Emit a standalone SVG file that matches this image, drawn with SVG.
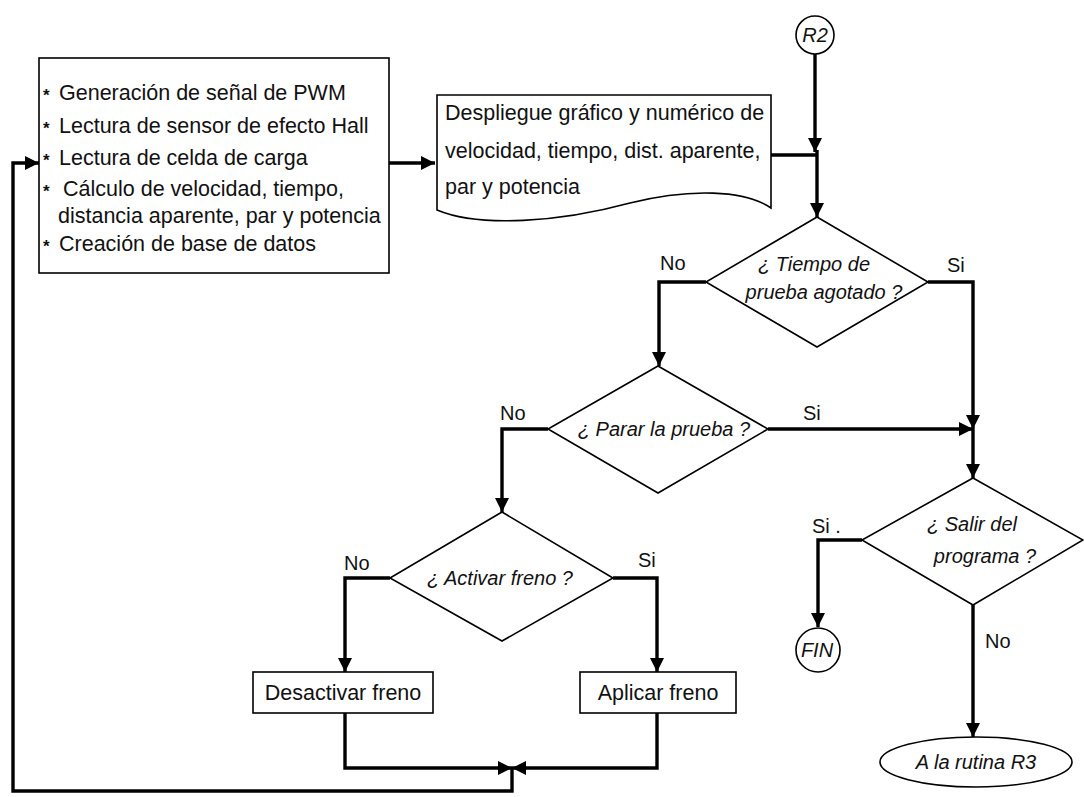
<svg xmlns="http://www.w3.org/2000/svg" width="1084" height="797" viewBox="0 0 1084 797">
  <defs>
    <marker id="arrow" markerUnits="userSpaceOnUse" markerWidth="14" markerHeight="14" refX="14" refY="7" orient="auto">
      <path d="M0,0 L14,7 L0,14 z" fill="#000"/>
    </marker>
    <style>
      .shape { fill: #fff; stroke: #000; stroke-width: 1.6; }
      .wire { fill: none; stroke: #000; stroke-width: 3.4; }
      .arrowed { marker-end: url(#arrow); }
      text { font-family: "Liberation Sans", Arial, sans-serif; fill: #111; }
      .body { font-size: 21.5px; }
      .ask { font-size: 20px; font-style: italic; text-anchor: middle; }
      .lbl { font-size: 20px; }
      .mid { text-anchor: middle; }
      .star { font-size: 17px; font-weight: bold; }
    </style>
  </defs>
  <rect width="1084" height="797" fill="#fff"/>

  <!-- connectors -->
  <g id="connectors">
    <path class="wire arrowed" d="M389,163 H435"/>
    <path class="wire" d="M771,155 H817"/>
    <path class="wire arrowed" d="M815,54 V152"/>
    <path class="wire arrowed" d="M817,150 V217"/>
    <path class="wire arrowed" d="M706,282 H659 V366"/>
    <path class="wire arrowed" d="M928,282 H973 V429"/>
    <path class="wire arrowed" d="M768,429 H973"/>
    <path class="wire arrowed" d="M973,429 V478"/>
    <path class="wire arrowed" d="M548,429 H502 V512"/>
    <path class="wire arrowed" d="M390,578 H345 V672"/>
    <path class="wire arrowed" d="M613,578 H657 V672"/>
    <path class="wire arrowed" d="M862,540 H818 V627"/>
    <path class="wire arrowed" d="M973,605 V737"/>
    <path class="wire arrowed" d="M345,713 V768 H512"/>
    <path class="wire arrowed" d="M657,713 V768 H512"/>
    <path class="wire arrowed" d="M512,768 V791 H13 V163 H39"/>
  </g>

  <!-- start connector R2 -->
  <g id="r2">
    <circle class="shape" cx="815" cy="35" r="19"/>
    <text class="ask" x="815" y="42">R2</text>
  </g>

  <!-- processing block -->
  <g id="process">
    <rect class="shape" x="39" y="58" width="350" height="215"/>
    <text class="star" x="43" y="101">*</text>
    <text class="body" x="59" y="100">Generación de señal de PWM</text>
    <text class="star" x="43" y="134">*</text>
    <text class="body" x="59" y="133">Lectura de sensor de efecto Hall</text>
    <text class="star" x="43" y="166">*</text>
    <text class="body" x="59" y="165">Lectura de celda de carga</text>
    <text class="star" x="43" y="197">*</text>
    <text class="body" x="63" y="196">Cálculo de velocidad, tiempo,</text>
    <text class="body" x="58" y="223">distancia aparente, par y potencia</text>
    <text class="star" x="43" y="252">*</text>
    <text class="body" x="59" y="251">Creación de base de datos</text>
  </g>

  <!-- display document -->
  <g id="display">
    <path class="shape" d="M437,95 H771 V208 C745,190 690,188 630,203 C560,222 480,228 437,210 Z"/>
    <text class="body" x="445" y="120">Despliegue gráfico y numérico de</text>
    <text class="body" x="445" y="158">velocidad, tiempo,  dist. aparente,</text>
    <text class="body" x="445" y="194">par y potencia</text>
  </g>

  <!-- decision: test time elapsed -->
  <g id="tiempo">
    <polygon class="shape" points="817,217 928,282 817,347 706,282"/>
    <text class="ask" x="814" y="271">¿ Tiempo de</text>
    <text class="ask" x="824" y="299">prueba agotado ?</text>
    <text class="lbl" x="660" y="270">No</text>
    <text class="lbl" x="947" y="272">Si</text>
  </g>

  <!-- decision: stop test -->
  <g id="parar">
    <polygon class="shape" points="658,366 768,429 658,493 548,429"/>
    <text class="ask" x="664" y="436">¿ Parar la prueba ?</text>
    <text class="lbl" x="500" y="420">No</text>
    <text class="lbl" x="803" y="420">Si</text>
  </g>

  <!-- decision: apply brake -->
  <g id="activar">
    <polygon class="shape" points="502,512 613,578 502,641 390,578"/>
    <text class="ask" x="500" y="585">¿ Activar freno ?</text>
    <text class="lbl" x="344" y="570">No</text>
    <text class="lbl" x="638" y="567">Si</text>
  </g>

  <!-- decision: exit program -->
  <g id="salir">
    <polygon class="shape" points="973,478 1083,540 973,605 862,540"/>
    <text class="ask" x="972" y="531">¿ Salir del</text>
    <text class="ask" x="985" y="563">programa ?</text>
    <text class="lbl" x="812" y="533">Si .</text>
    <text class="lbl" x="985" y="648">No</text>
  </g>

  <g id="desactivar">
    <rect class="shape" x="253" y="672" width="180" height="41"/>
    <text class="body mid" x="343" y="700">Desactivar freno</text>
  </g>

  <g id="aplicar">
    <rect class="shape" x="580" y="672" width="156" height="41"/>
    <text class="body mid" x="658" y="700">Aplicar freno</text>
  </g>

  <g id="fin">
    <circle class="shape" cx="818" cy="650" r="22"/>
    <text class="ask" x="817" y="657">FIN</text>
  </g>

  <g id="r3">
    <ellipse class="shape" cx="976" cy="762" rx="96" ry="25"/>
    <text class="ask" x="976" y="769">A la rutina R3</text>
  </g>
</svg>
